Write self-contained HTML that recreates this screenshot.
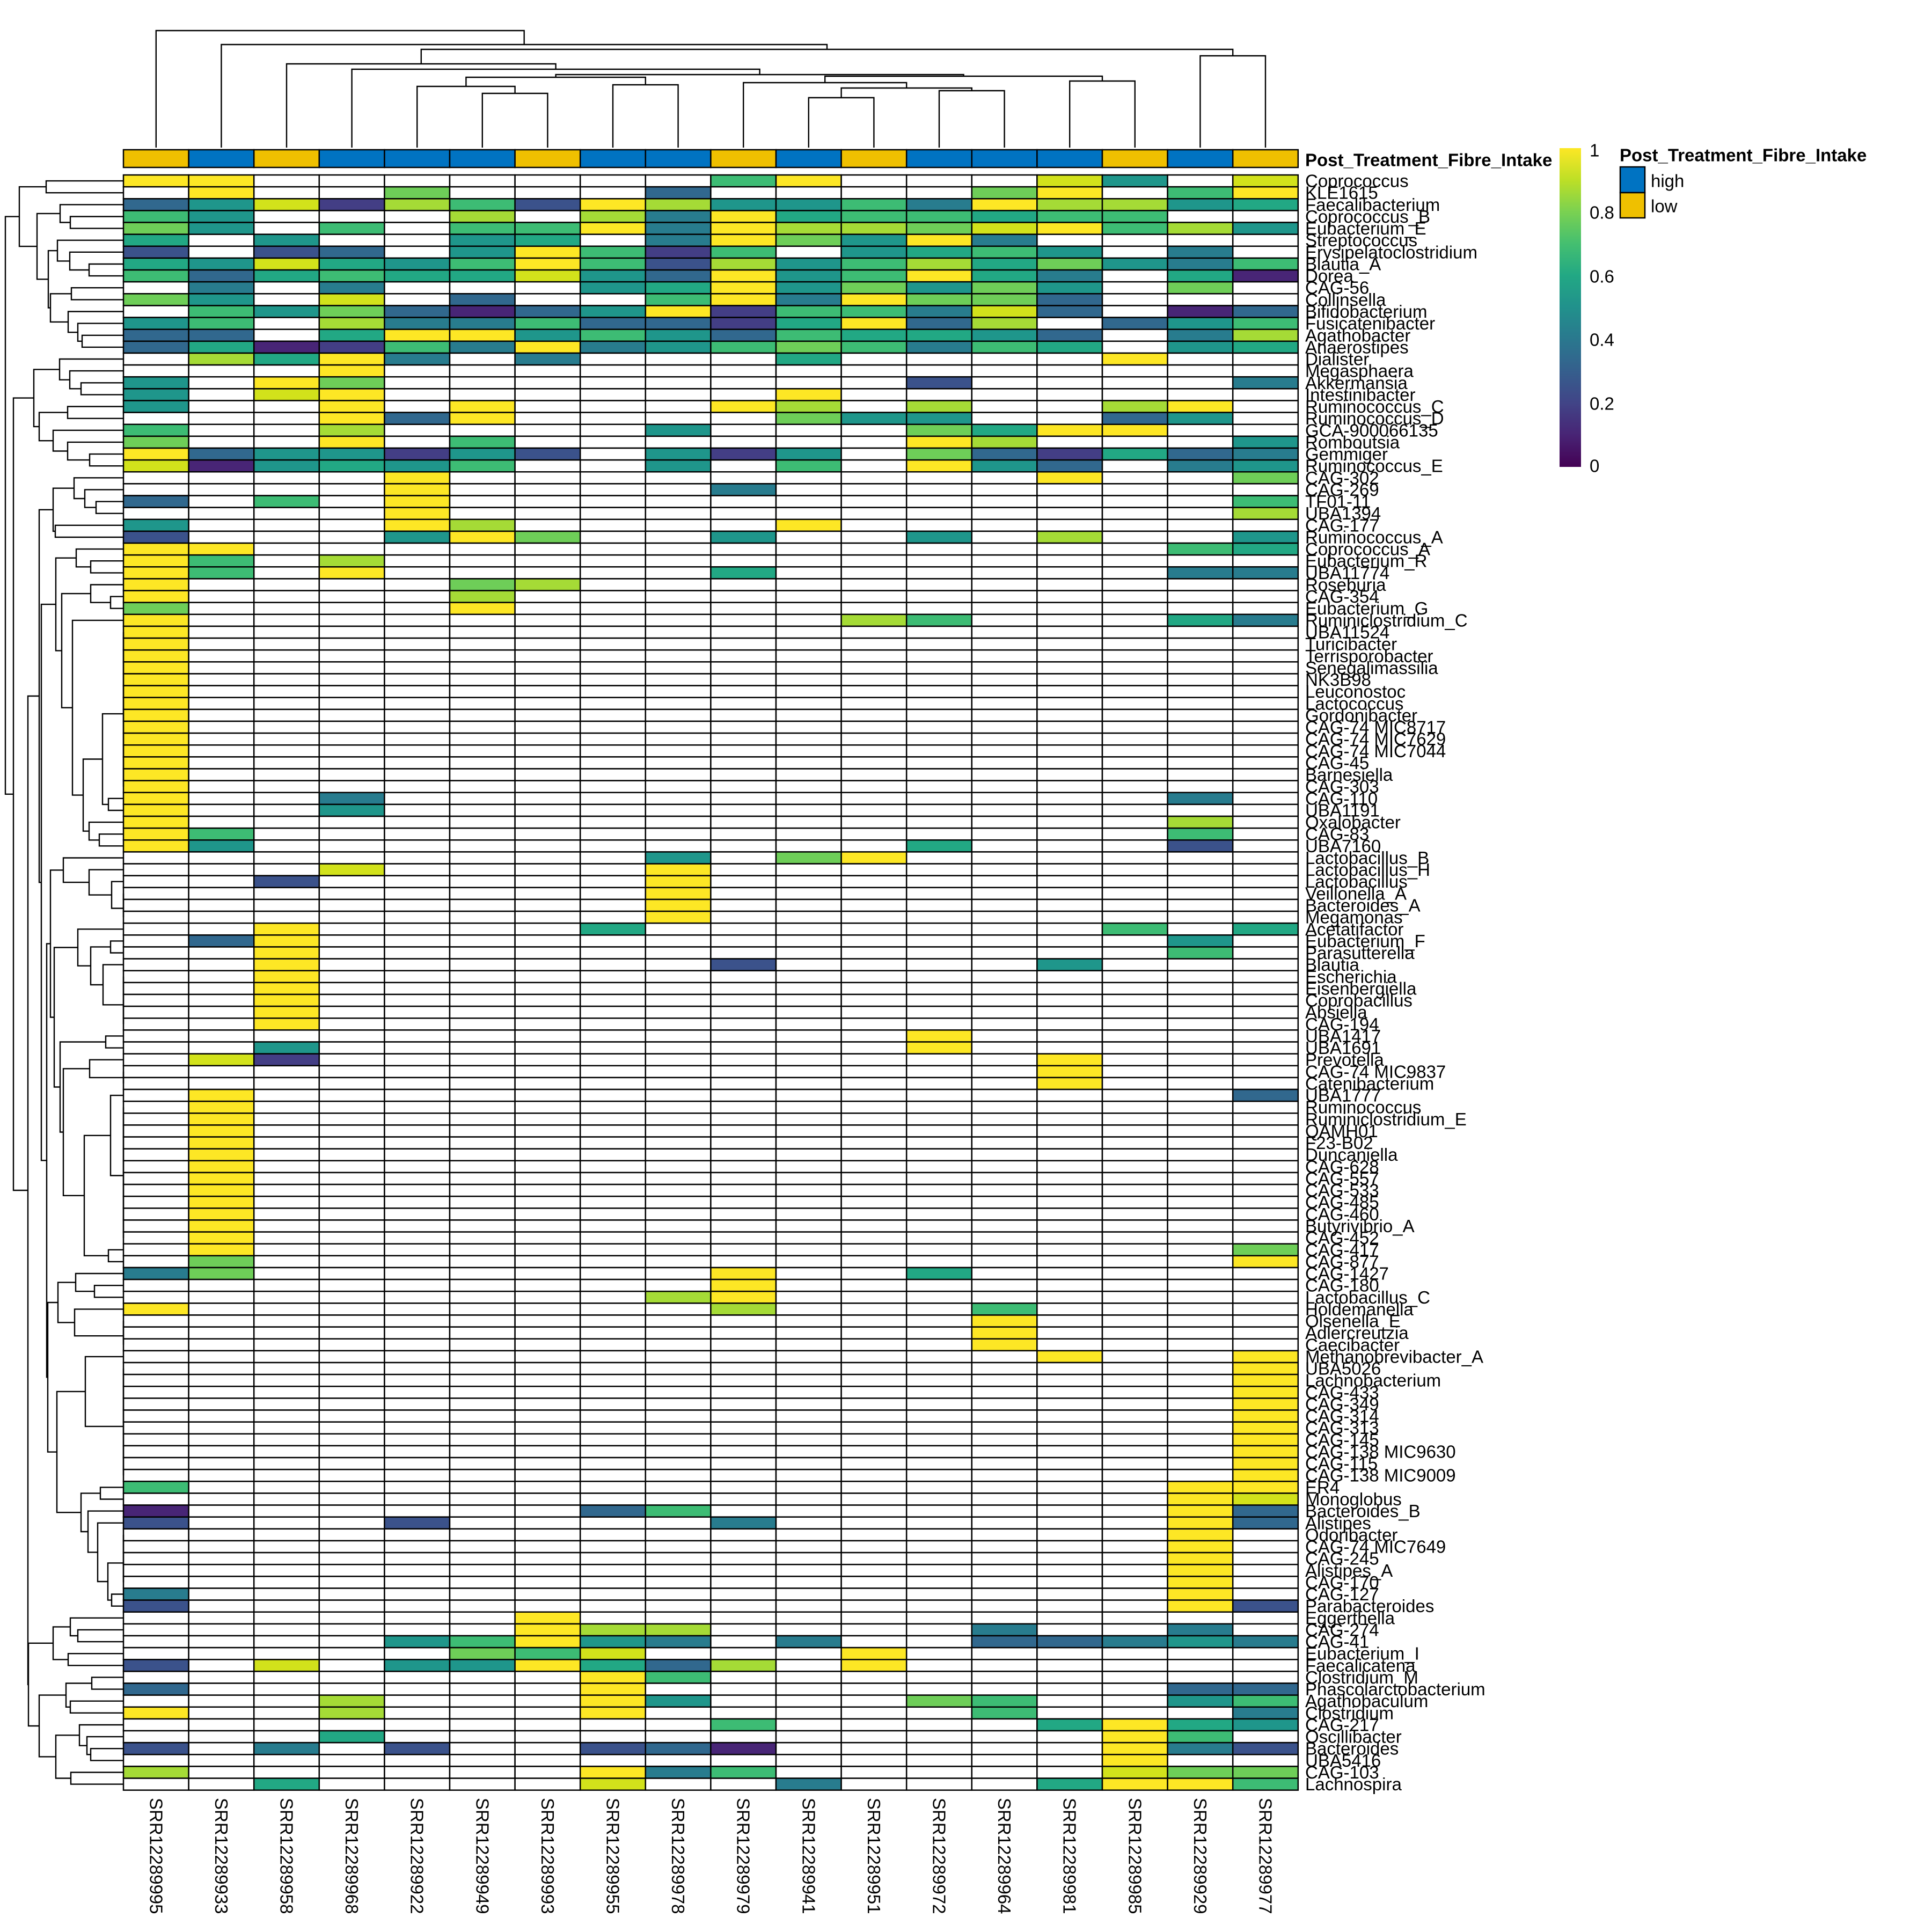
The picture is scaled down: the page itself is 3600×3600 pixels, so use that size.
<!DOCTYPE html>
<html><head><meta charset="utf-8"><style>
html,body{margin:0;padding:0;background:#fff;}
svg{display:block;}
text{font-family:"Liberation Sans",Arial,sans-serif;fill:#000;}
</style></head><body>
<svg id="s" width="3600" height="3600" viewBox="0 0 3600 3600" xmlns="http://www.w3.org/2000/svg">
<defs>
<linearGradient id="vir" x1="0" y1="1" x2="0" y2="0">
<stop offset="0" stop-color="#440154"/><stop offset="0.1" stop-color="#482475"/><stop offset="0.2" stop-color="#414487"/><stop offset="0.3" stop-color="#355F8D"/><stop offset="0.4" stop-color="#2A788E"/><stop offset="0.5" stop-color="#21918C"/><stop offset="0.6" stop-color="#22A884"/><stop offset="0.7" stop-color="#44BF70"/><stop offset="0.8" stop-color="#7AD151"/><stop offset="0.9" stop-color="#BDDF26"/><stop offset="1" stop-color="#FDE725"/>
</linearGradient>
</defs>
<g id="cells"></g>
<g id="dend" fill="none" stroke="#000" stroke-width="2.4"></g>
<text x="2432" y="298" font-size="33" font-weight="bold" dominant-baseline="central">Post_Treatment_Fibre_Intake</text>
<g id="rl" font-size="33">
<text>Coprococcus</text><text>KLE1615</text><text>Faecalibacterium</text><text>Coprococcus_B</text><text>Eubacterium_E</text><text>Streptococcus</text><text>Erysipelatoclostridium</text><text>Blautia_A</text><text>Dorea</text><text>CAG-56</text><text>Collinsella</text><text>Bifidobacterium</text><text>Fusicatenibacter</text><text>Agathobacter</text><text>Anaerostipes</text><text>Dialister</text><text>Megasphaera</text><text>Akkermansia</text><text>Intestinibacter</text><text>Ruminococcus_C</text><text>Ruminococcus_D</text><text>GCA-900066135</text><text>Romboutsia</text><text>Gemmiger</text><text>Ruminococcus_E</text><text>CAG-302</text><text>CAG-269</text><text>TF01-11</text><text>UBA1394</text><text>CAG-177</text><text>Ruminococcus_A</text><text>Coprococcus_A</text><text>Eubacterium_R</text><text>UBA11774</text><text>Roseburia</text><text>CAG-354</text><text>Eubacterium_G</text><text>Ruminiclostridium_C</text><text>UBA11524</text><text>Turicibacter</text><text>Terrisporobacter</text><text>Senegalimassilia</text><text>NK3B98</text><text>Leuconostoc</text><text>Lactococcus</text><text>Gordonibacter</text><text>CAG-74 MIC8717</text><text>CAG-74 MIC7629</text><text>CAG-74 MIC7044</text><text>CAG-45</text><text>Barnesiella</text><text>CAG-303</text><text>CAG-110</text><text>UBA1191</text><text>Oxalobacter</text><text>CAG-83</text><text>UBA7160</text><text>Lactobacillus_B</text><text>Lactobacillus_H</text><text>Lactobacillus</text><text>Veillonella_A</text><text>Bacteroides_A</text><text>Megamonas</text><text>Acetatifactor</text><text>Eubacterium_F</text><text>Parasutterella</text><text>Blautia</text><text>Escherichia</text><text>Eisenbergiella</text><text>Coprobacillus</text><text>Absiella</text><text>CAG-194</text><text>UBA1417</text><text>UBA1691</text><text>Prevotella</text><text>CAG-74 MIC9837</text><text>Catenibacterium</text><text>UBA1777</text><text>Ruminococcus</text><text>Ruminiclostridium_E</text><text>QAMH01</text><text>F23-B02</text><text>Duncaniella</text><text>CAG-628</text><text>CAG-557</text><text>CAG-533</text><text>CAG-485</text><text>CAG-460</text><text>Butyrivibrio_A</text><text>CAG-452</text><text>CAG-417</text><text>CAG-877</text><text>CAG-1427</text><text>CAG-180</text><text>Lactobacillus_C</text><text>Holdemanella</text><text>Olsenella_E</text><text>Adlercreutzia</text><text>Caecibacter</text><text>Methanobrevibacter_A</text><text>UBA5026</text><text>Lachnobacterium</text><text>CAG-433</text><text>CAG-349</text><text>CAG-314</text><text>CAG-313</text><text>CAG-145</text><text>CAG-138 MIC9630</text><text>CAG-115</text><text>CAG-138 MIC9009</text><text>ER4</text><text>Monoglobus</text><text>Bacteroides_B</text><text>Alistipes</text><text>Odoribacter</text><text>CAG-74 MIC7649</text><text>CAG-245</text><text>Alistipes_A</text><text>CAG-170</text><text>CAG-127</text><text>Parabacteroides</text><text>Eggerthella</text><text>CAG-274</text><text>CAG-41</text><text>Eubacterium_I</text><text>Faecalicatena</text><text>Clostridium_M</text><text>Phascolarctobacterium</text><text>Agathobaculum</text><text>Clostridium</text><text>CAG-217</text><text>Oscillibacter</text><text>Bacteroides</text><text>UBA5416</text><text>CAG-103</text><text>Lachnospira</text>
</g>
<g font-size="33" dominant-baseline="central">
<text transform="translate(290.8,3350) rotate(90)">SRR12289995</text>
<text transform="translate(412.4,3350) rotate(90)">SRR12289933</text>
<text transform="translate(534,3350) rotate(90)">SRR12289958</text>
<text transform="translate(655.6,3350) rotate(90)">SRR12289968</text>
<text transform="translate(777.2,3350) rotate(90)">SRR12289922</text>
<text transform="translate(898.8,3350) rotate(90)">SRR12289949</text>
<text transform="translate(1020.4,3350) rotate(90)">SRR12289993</text>
<text transform="translate(1142,3350) rotate(90)">SRR12289955</text>
<text transform="translate(1263.6,3350) rotate(90)">SRR12289978</text>
<text transform="translate(1385.2,3350) rotate(90)">SRR12289979</text>
<text transform="translate(1506.8,3350) rotate(90)">SRR12289941</text>
<text transform="translate(1628.4,3350) rotate(90)">SRR12289951</text>
<text transform="translate(1750,3350) rotate(90)">SRR12289972</text>
<text transform="translate(1871.6,3350) rotate(90)">SRR12289964</text>
<text transform="translate(1993.2,3350) rotate(90)">SRR12289981</text>
<text transform="translate(2114.8,3350) rotate(90)">SRR12289985</text>
<text transform="translate(2236.4,3350) rotate(90)">SRR12289929</text>
<text transform="translate(2358,3350) rotate(90)">SRR12289977</text>
</g>
<rect x="2906" y="276" width="40" height="594" fill="url(#vir)"/>
<g font-size="33" dominant-baseline="central">
<text x="2962" y="280">1</text>
<text x="2962" y="396">0.8</text>
<text x="2962" y="515">0.6</text>
<text x="2962" y="633">0.4</text>
<text x="2962" y="752">0.2</text>
<text x="2962" y="868">0</text>
</g>
<text x="3018" y="289" font-size="33" font-weight="bold" dominant-baseline="central">Post_Treatment_Fibre_Intake</text>
<rect x="3019" y="311" width="46" height="48" fill="#0073C2" stroke="#000" stroke-width="2.5"/>
<rect x="3019" y="359" width="46" height="47" fill="#EFC000" stroke="#000" stroke-width="2.5"/>
<text x="3076" y="337" font-size="33" dominant-baseline="central">high</text>
<text x="3076" y="384" font-size="33" dominant-baseline="central">low</text>
</svg>
<script>
(function(){
var NS="http://www.w3.org/2000/svg";
var L=230,CW=121.6,T=326,RH=22.13,NC=18;
var pal={Y:"#FDE725",K:"#D2E21B",L:"#A5DB36",M:"#6ECE58",G:"#3DBC74",E:"#22A884",T:"#1F968B",S:"#287C8E",B:"#31688E",D:"#3B528B",I:"#433E85",P:"#482576",".":"#FFFFFF"};
var rows=["YY.......GY...KT.K",".Y..M...B....MY.GY","BTKILGDYLTTGSYLLTE","GT...L.LSYEGGEGG..","MT.G.GGYSYLLMKYGLT","E.T..TE.SYMTYS....","D.DB.TYGIG.TEGT.S.","ETKETGYGDLTGLEMTSG","GBEGEEKTBYTGYES.EP",".S.S...TEYTMTMT.M.","MT.K.B..GYSYMMB...",".GTMBPBTYIGGSKB.PB","TG.LSSGBBIEYBL.BTG","BB.EYYTGTBGEETB.SL","BEPIGSYSTGMGSGE.TE",".LEYS.S...E....Y..","...Y..............","T.YM........D....S","T.KY......Y.......","T..Y.Y...YL.L..LY.","...YBY....MTT..BT.","G..L....T...MEYY..","M..Y.G......YL...T","YBTTITD.TIT.MBIEBS","KPTETG..T.G.YTB.ST","....Y.........Y..M","....Y....S........","B.G.Y............G","....Y............L","T...YL....Y.......","D...TYM..T..T.L..T","YY..............GE","YG.L..............","YG.Y.....E......SS","Y....ML...........","Y....L............","M....Y............","Y..........LG...ES"];
var i;
for(i=38;i<=51;i++)rows.push("Y.................");
rows.push("Y..S............S.","Y..T..............","Y...............L.","YG..............G.","YT..........E...D.","........T.MY......","...K....Y.........","..D.....Y.........");
for(i=60;i<=62;i++)rows.push("........Y.........");
rows.push("..Y....E.......G.E",".BY.............T.","..Y.............G.","..Y......D....T...");
for(i=67;i<=71;i++)rows.push("..Y...............");
rows.push("............Y.....","..T.........Y.....",".KI...........Y...","..............Y...","..............Y...",".Y...............B");
for(i=78;i<=89;i++)rows.push(".Y................");
rows.push(".Y...............M",".M...............Y","SM.......Y..E.....",".........Y........","........LY........","Y........L...G....");
for(i=96;i<=98;i++)rows.push(".............Y....");
rows.push("..............Y..Y");
for(i=100;i<=109;i++)rows.push(".................Y");
rows.push("G...............YY","................YK","P......BG.......YB","D...D....S......YB");
for(i=114;i<=118;i++)rows.push("................Y.");
rows.push("S...............Y.","D...............YD","......Y...........","......YLL....S..S.","....TGYTS.S..BBSTS",".....MGK...Y......","D.K.TTYEBL.Y......",".......YG.........","B......Y........BB","...L...YT...MG..TG","Y..L...Y.....G...S",".........G....EYET","...E...........YG.","D.S.D..DBP.....YSD","...............Y..","L......YSG.....KMM","..E....K..S...EYYG");
var cells=document.getElementById("cells");
var h="";
for(var r=0;r<rows.length;r++){for(var c=0;c<NC;c++){var ch=rows[r].charAt(c)||".";
h+='<rect x="'+(L+c*CW).toFixed(1)+'" y="'+(T+r*RH).toFixed(2)+'" width="'+CW+'" height="'+RH+'" fill="'+pal[ch]+'" stroke="#000" stroke-width="2.5"/>';}}
var ann="YBYBBBYBBYBYBBBYBY";
for(var c=0;c<NC;c++){h+='<rect x="'+(L+c*CW).toFixed(1)+'" y="279" width="'+CW+'" height="33" fill="'+(ann[c]=="B"?"#0073C2":"#EFC000")+'" stroke="#000" stroke-width="2.5"/>';}
cells.innerHTML=h;
// row labels
var tl=document.getElementById("rl").getElementsByTagName("text");
for(i=0;i<tl.length;i++){tl[i].setAttribute("x","2432");tl[i].setAttribute("y",(T+RH*(i+0.5)).toFixed(1));tl[i].setAttribute("dominant-baseline","central");}
// left dendrogram
function N(hh,a,b){return {h:hh,a:a,b:b};}
function F(a,b){if(a==b)return a;var m=Math.floor((a+b)/2);return N(230,F(a,m),F(m+1,b));}
var d="";
function pos(n){if(typeof n=="number")return {x:230,y:T+RH*(n+0.5)};
var pa=pos(n.a),pb=pos(n.b);
d+="M"+pa.x+","+pa.y.toFixed(1)+"H"+n.h+"V"+pb.y.toFixed(1)+"H"+pb.x+" ";
return {x:n.h,y:(pa.y+pb.y)/2};}
var A=N(36,N(86,0,1),N(69,N(112,2,N(131,3,4)),N(90,N(107,5,N(130,6,N(166,7,8))),N(94,N(133,9,10),N(127,11,N(145,12,N(153,13,14)))))));
var n63=N(63,N(111,15,N(130,16,N(151,17,18))),N(73,N(126,19,20),N(99,21,N(126,22,N(167,23,24)))));
var C1=N(99,N(138,25,N(158,26,N(179,27,28))),N(103,29,30));
var D1=N(142,31,N(169,32,33));
var D2=N(169,34,N(206,35,36));
var D3=N(191,F(38,51),N(202,52,53));
var D4=N(155,D3,N(166,54,N(185,55,56)));
var n104=N(104,D1,N(115,D2,N(135,37,D4)));
var E1=N(118,57,N(166,58,N(208,59,F(60,62))));
var E2=N(145,63,N(169,N(206,64,65),N(192,66,F(67,71))));
var E3=N(112,N(197,72,73),N(118,N(167,74,F(75,76)),N(157,N(206,77,F(78,89)),N(202,90,91))));
var n94=N(94,E1,N(101,E2,E3));
var G1=N(108,N(141,92,N(176,93,94)),N(139,95,F(96,98)));
var G2=N(106,N(159,99,F(100,109)),N(151,N(187,110,111),N(164,112,N(182,113,N(201,F(114,118),N(208,119,120))))));
var n87=N(87,n94,N(89,G1,G2));
var n73b=N(73,C1,N(77,n104,n87));
var H1=N(99,N(131,121,N(145,122,123)),N(127,124,125));
var H2=N(73,N(123,N(171,126,127),N(131,128,129)),N(104,N(148,130,N(162,131,N(169,132,133))),N(132,134,135)));
var root=N(10,A,N(25,n63,N(52,n73b,N(53,H1,H2))));
pos(root);
// top dendrogram
function cx(i){return L+CW*(i+0.5);}
function M(hh,a,b){return {h:hh,a:a,b:b};}
function tpos(n){if(typeof n=="number")return {x:cx(n),y:275};
var pa=tpos(n.a),pb=tpos(n.b);
d+="M"+pa.x.toFixed(1)+","+pa.y+"V"+n.h+"H"+pb.x.toFixed(1)+"V"+pb.y+" ";
return {x:(pa.x+pb.x)/2,y:n.h};}
var n142=M(142,M(154,9,M(164,M(182,10,11),M(169,12,13))),M(151,14,15));
var n144=M(144,M(161,4,M(174,5,6)),M(158,7,8));
var troot=M(57,0,M(83,1,M(92,M(119,2,M(129,3,M(139,n144,n142))),M(104,16,17))));
tpos(troot);
var p=document.createElementNS(NS,"path");p.setAttribute("d",d);
document.getElementById("dend").appendChild(p);
})();
</script>
</body></html>
